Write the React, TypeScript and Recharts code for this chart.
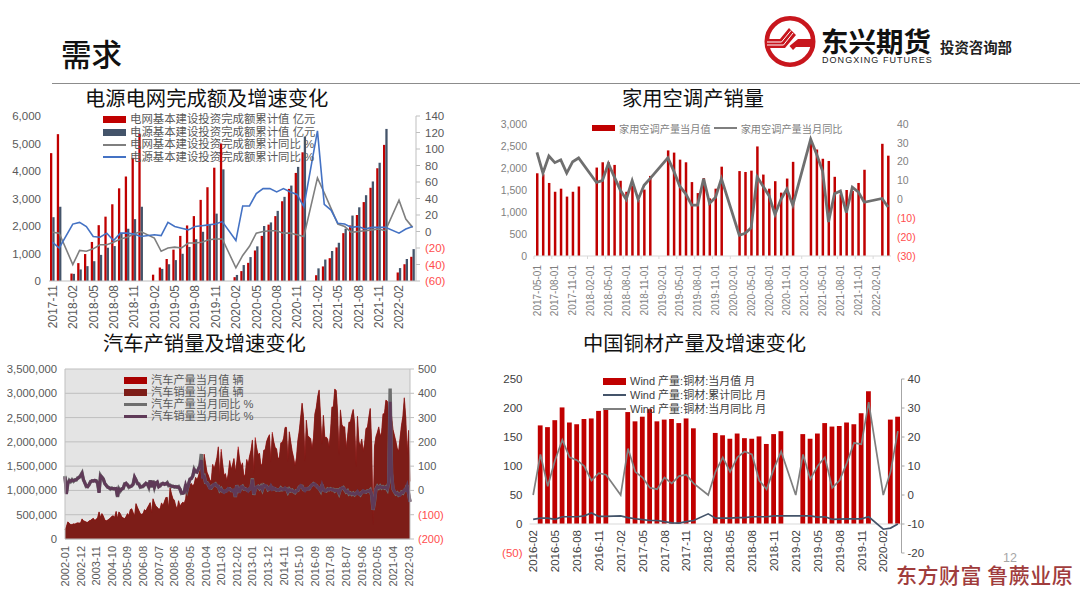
import React from "react";
import { ComposedChart, Bar, Line, Area, XAxis, YAxis, CartesianGrid, Legend, ReferenceLine } from "recharts";

const CN = '"Liberation Sans", Arial, "Noto Sans CJK SC", sans-serif';
const _ = null;

function monthList(y0: number, m0: number, count: number, suffix = "") {
  const out: string[] = [];
  for (let i = 0; i < count; i++) {
    const t = y0 * 12 + (m0 - 1) + i;
    out.push(`${Math.floor(t / 12)}-${String((t % 12) + 1).padStart(2, "0")}${suffix}`);
  }
  return out;
}

/* ---- Panel 1 ---- */
const gridCats = monthList(2017, 11, 54);
const gridValue = [4650,5340,_,270,650,980,1420,2030,2340,2790,3370,3800,4480,5360,_,230,490,800,1140,1640,2020,2360,2950,3410,4120,5000,_,140,360,660,1110,1640,2050,2360,2900,3350,3930,4680,_,210,530,830,1220,1740,2020,2400,2870,3390,4100,4950,_,310,610,880];
const powerValue = [2320,2700,_,260,420,540,720,950,1210,1270,1720,1900,2250,2700,_,_,440,610,760,990,1240,1520,1790,2050,2450,4060,_,220,580,870,1260,2000,2130,2550,3060,3470,4150,5250,_,460,780,1090,1390,1900,2380,2680,3120,3620,4300,5530,_,470,800,1160];
const gridYoy = [-1,-2,_,-40,-23,-24,-21,-16,-16,-13,-9,-7,-3,0,_,-8,-24,-20,-19,-20,-14,-14,-13,-10,-9,-9,_,-44,-29,-18,-2,0,1,1,-2,-2,-4,-6,_,65,47,28,9,6,-1,0,1,2,3,1,_,38,15,5];
const powerYoy = [-13,-20,_,9,11,6,-6,-7,-2,-11,-2,-2,-3,-6,_,-4,-5,11,6,4,2,6,7,8,9,12,_,-11,31,31,46,52,52,48,52,48,45,30,_,122,33,26,10,9,5,6,3,5,5,5,_,-2,3,6];
const p1Rows = gridCats.map((c, i) => ({ c, a: gridValue[i], b: powerValue[i], g: gridYoy[i], p: powerYoy[i] }));

/* ---- Panel 2 ---- */
const acCats = monthList(2017, 5, 60, "-01");
const acValue = [1880,1860,1660,1460,1530,1350,1460,1580,_,_,2010,2130,2130,2070,1710,1460,1600,1280,1510,1820,_,_,2400,2350,2190,2130,1680,1430,1770,1310,1530,2030,_,_,1930,1910,1940,2490,1850,1530,1700,1440,1760,2140,_,_,2580,2420,2210,2160,1800,1400,1500,1480,1660,1960,_,_,2550,2280];
const acYoy = [25,14,23,19.5,21,14,20,22,_,_,9,10,19,12,5,0,10,0,7.5,11,_,_,22,15,7,3,-3,-3,11,-2,1,11,_,_,-19,-18,-15,12,7,2,-8,0,5.5,-3,_,_,32,24,15,-12,3,4.5,-7,6.5,4,-1.5,_,_,0.5,-4];
const p2Rows = acCats.map((c, i) => ({ c, a: acValue[i], g: acYoy[i] }));

/* ---- Panel 3 ---- */
const carCats = monthList(2002, 1, 244);
const carSales = [
  190,250,350,320,300,300,310,310,320,330,330,330,
  410,370,360,350,340,370,380,410,420,380,400,440,
  560,450,520,470,390,370,390,410,430,470,480,450,
  570,420,560,520,450,430,420,460,520,480,600,620,
  540,470,730,650,590,520,510,520,600,580,640,690,
  750,540,830,740,680,650,620,620,740,680,770,850,
  860,640,1060,930,830,800,680,620,790,670,720,760,
  730,830,1110,1150,1120,1140,1090,1130,1270,1220,1290,1410,
  1660,1250,1740,1550,1370,1300,1210,1180,1530,1440,1540,1670,
  1890,1270,1790,1550,1300,1340,1190,1340,1600,1420,1520,1650,
  1380,1570,1840,1630,1480,1560,1270,1330,1630,1530,1700,1820,
  2030,1350,2030,1870,1730,1760,1500,1550,1820,1830,2000,2080,
  2140,1580,2160,2000,1880,1850,1650,1670,1970,1980,2070,2290,
  2290,1590,2200,1990,1800,1670,1500,1660,2020,2220,2500,2790,
  2510,1590,2440,2120,2090,2060,1850,2070,2570,2700,2930,3060,
  2520,1940,2540,2080,2090,2050,1880,2190,2710,2710,3080,3050,
  2600,1720,2650,2350,2300,2300,1850,2100,2400,2400,2550,2660,
  2370,1480,2520,2000,1900,2050,1800,1950,2270,2290,2500,2680,
  1950,300,1900,2100,2190,2300,2110,2190,2570,2570,2850,2830,
  2500,1450,2530,2250,2130,2010,1860,1800,2070,2330,2520,2900,
  2500,1740,2230,1180,
].map((v) => v * 1000);
const carProd = [
  190,260,355,325,295,295,315,305,325,335,325,335,
  415,375,365,345,345,375,385,405,425,385,405,445,
  555,445,525,475,395,375,385,405,435,465,475,445,
  565,425,555,515,455,435,415,465,525,485,605,625,
  545,475,725,655,585,525,505,525,605,575,645,695,
  745,545,825,745,675,655,615,625,745,685,765,855,
  855,645,1055,925,835,795,685,615,785,675,725,755,
  735,825,1105,1150,1115,1145,1085,1135,1265,1215,1295,1415,
  1670,1260,1750,1560,1380,1310,1220,1190,1540,1450,1550,1680,
  1900,1290,1850,1570,1310,1350,1200,1350,1620,1430,1530,1660,
  1390,1590,1900,1640,1490,1570,1280,1340,1640,1540,1710,1830,
  2040,1360,2090,1880,1740,1770,1510,1560,1830,1840,2010,2090,
  2150,1590,2200,2010,1890,1860,1660,1680,1980,1990,2080,2300,
  2300,1600,2210,2000,1810,1680,1510,1670,2030,2230,2510,2800,
  2520,1600,2450,2130,2100,2070,1860,2080,2580,2710,2940,3070,
  2530,1950,2550,2090,2100,2060,1890,2200,2720,2720,3090,3060,
  2610,1730,2660,2360,2310,2310,1860,2110,2410,2410,2560,2670,
  2380,1490,2530,2010,1910,2060,1810,1960,2280,2300,2510,2690,
  1960,310,1910,2110,2200,2310,2120,2200,2580,2580,2860,2840,
  2510,1460,2540,2260,2140,2020,1870,1810,2080,2340,2530,2910,
  2510,1750,2240,1190,
].map((v) => v * 1000);
const carSalesYoy = [
  55,-15,30,40,38,42,40,42,45,50,55,60,
  70,45,30,18,15,25,35,40,38,42,38,30,
  -10,60,55,45,30,20,15,10,8,8,8,6,
  8,-25,5,0,5,10,25,30,22,15,15,20,
  25,55,42,30,25,15,14,18,22,30,25,15,
  40,15,38,15,30,35,15,20,25,30,25,28,
  30,22,20,18,16,16,14,15,14,6,-10,-12,
  -8,22,5,25,47,48,60,85,78,75,90,100,
  125,55,58,35,30,25,10,12,18,25,25,20,
  15,2,5,-2,-8,-1,-2,8,5,2,-2,2,
  -25,20,-3,-5,15,15,8,5,5,-2,8,7,
  45,-15,5,15,15,10,15,5,20,20,15,5,
  5,18,5,10,5,3,0,3,8,5,3,10,
  5,-5,3,0,-1,-3,-7,-3,2,12,20,15,
  5,-1,8,6,9,15,24,26,26,18,15,6,
  0,22,4,-2,0,4,5,5,5,2,-1,0,
  0,-10,5,11,10,5,-4,-3,-12,-12,-14,-13,
  -16,-14,-5,-15,-16,-10,-2,-7,-5,-4,-2,0,
  -18,-79,-43,4,15,12,16,12,13,12,12,6,
  30,365,75,9,-3,-12,-12,-18,-19,-9,-9,2,
  1,19,-11,-48,
];
const carProdYoy = [
  60,-12,28,42,36,44,38,44,43,52,53,62,
  72,43,32,16,17,23,37,38,40,40,40,28,
  -8,62,53,47,28,22,13,12,6,10,6,8,
  6,-27,7,-2,7,8,27,28,24,13,17,18,
  27,53,44,28,27,13,16,16,24,28,27,13,
  42,13,40,13,32,33,17,18,27,28,27,26,
  32,20,22,16,18,14,16,13,16,4,-12,-10,
  -10,24,3,27,45,50,58,87,76,77,88,102,
  150,60,62,33,32,23,12,10,20,23,27,18,
  17,0,7,-4,-6,-3,0,6,7,0,0,0,
  -27,22,-5,-3,13,17,6,7,3,0,6,9,
  50,-18,7,13,17,8,17,3,22,18,17,3,
  7,16,7,8,7,1,2,1,10,3,5,8,
  7,-7,5,-2,1,-5,-9,-1,0,14,18,17,
  3,1,6,8,7,17,22,28,24,20,13,8,
  -2,24,2,0,-2,6,3,7,3,4,-3,2,
  2,-12,7,9,12,3,-6,-1,-14,-10,-16,-11,
  -18,-12,-7,-13,-18,-8,-4,-5,-7,-2,-4,2,
  -20,-80,-45,6,17,10,18,10,15,10,14,4,
  32,420,70,7,-5,-14,-10,-20,-17,-7,-11,0,
  3,21,-13,-46,
];
const p3Rows = carCats.map((c, i) => ({ c, a: carProd[i], b: carSales[i], g: carProdYoy[i], p: carSalesYoy[i] }));

/* ---- Panel 4 ---- */
const cuCats = monthList(2016, 2, 51);
const cuValue = [_,170,167,179,201,175,172,181,182,195,199,_,_,193,177,185,198,177,180,181,174,182,165,_,_,157,153,147,156,148,147,151,138,155,160,_,_,155,147,156,174,168,169,175,172,191,229,_,_,180,185];
const cuCumYoy = [-8.4,-8,-8,-8.4,-7.5,-7.5,-7.5,-7.2,-6.2,-7.4,-7.4,_,-7.2,-7.8,-8.2,-8.5,-8.8,-8.8,-9.2,-9.6,-9.7,-9.2,-8.8,_,-6.5,-8,-8,-8,-7.8,-7.8,-7.5,-7.5,-7.5,-7.2,-7.2,_,-7.2,-7.2,-7.2,-7.6,-7.5,-8.4,-8.3,-8.2,-8.2,-8.2,-7.5,_,-11.8,-11.4,-10];
const cuMonYoy = [0,14,3,12,19,13,12,10,5,7.5,7,_,0,16,8,6,2.5,2,6,4,6.5,7,4,_,0,8,13,8,13,15,14,5,2,9,15,_,0,14,5.5,10,13,2.5,5,11,18,17.5,32,_,0,8,22];
const p4Rows = cuCats.map((c, i) => ({ c, a: cuValue[i], g: cuMonYoy[i], p: cuCumYoy[i] }));

/* ---- Legends ---- */
const p1Legend = ["电网基本建设投资完成额累计值 亿元", "电源基本建设投资完成额累计值 亿元", "电网基本建设投资完成额累计同比 %", "电源基本建设投资完成额累计同比 %"];
const p2Legend = ["家用空调产量当月值", "家用空调产量当月同比"];
const p3Legend = ["汽车产量当月值 辆", "汽车销量当月值 辆", "汽车产量当月同比 %", "汽车销量当月同比 %"];
const p4Legend = ["Wind 产量:铜材:当月值 月", "Wind 产量:铜材:累计同比 月", "Wind 产量:铜材:当月同比 月"];

type Item = { text: string; color: string; kind: "box" | "line"; lw?: number };

function VLegend({ items, step, size, color, sw = 23 }: { items: Item[]; step: number; size: number; color: string; sw?: number }) {
  return (
    <div style={{ fontFamily: CN, fontSize: size, color, lineHeight: `${step}px`, whiteSpace: "nowrap" }}>
      {items.map((it) => (
        <div key={it.text} style={{ display: "flex", alignItems: "center", height: step }}>
          <span style={{ display: "inline-block", width: sw, height: it.kind === "box" ? 7 : it.lw ?? 2, background: it.color, marginRight: 4 }} />
          <span>{it.text}</span>
        </div>
      ))}
    </div>
  );
}

function HLegend({ items, size, color }: { items: Item[]; size: number; color: string }) {
  return (
    <div style={{ fontFamily: CN, fontSize: size, color, whiteSpace: "nowrap", display: "flex", alignItems: "center", height: 14 }}>
      {items.map((it) => (
        <React.Fragment key={it.text}>
          <span style={{ display: "inline-block", width: 23, height: it.kind === "box" ? 6 : it.lw ?? 2, background: it.color, marginRight: 4 }} />
          <span style={{ marginRight: 3 }}>{it.text}</span>
        </React.Fragment>
      ))}
    </div>
  );
}

/* ---- Ticks ---- */
const RED = "#ff4d4d";
function numTick(size: number, color: string, anchor: "start" | "end", fmt = true) {
  return (p: any) => {
    const v = p.payload.value as number;
    const neg = v < 0;
    const s = neg && fmt ? `(${Math.abs(v).toLocaleString("en-US")})` : v.toLocaleString("en-US");
    return (
      <text x={p.x} y={p.y} dy="0.36em" textAnchor={anchor} fontFamily={CN} fontSize={size} fill={neg && fmt ? RED : color}>
        {s}
      </text>
    );
  };
}
function rotTick(size: number, color: string, off: number, mark?: number, markColor?: string) {
  return (p: any) => (
    <g>
      {mark ? <line x1={p.x - mark} x2={p.x - mark} y1={p.y} y2={p.y + 3} stroke={markColor} /> : null}
      <text transform={`translate(${p.x},${p.y + off}) rotate(-90)`} textAnchor="end" dy="0.36em" fontFamily={CN} fontSize={size} fill={color}>
        {p.payload.value}
      </text>
    </g>
  );
}

const box = (left: number, top: number): React.CSSProperties => ({ position: "absolute", left, top });
const titleStyle = (left: number, top: number, size = 20.3): React.CSSProperties => ({
  position: "absolute", left, top, fontFamily: '"Noto Sans CJK SC"', fontSize: size, lineHeight: "26px", color: "#111", whiteSpace: "nowrap",
});

const legendWrap = (left: number, top: number): React.CSSProperties => ({ left, top, width: "auto" });

function Panel1() {
  const items: Item[] = [
    { text: p1Legend[0], color: "#c00000", kind: "box" },
    { text: p1Legend[1], color: "#44546a", kind: "box" },
    { text: p1Legend[2], color: "#7f7f7f", kind: "line" },
    { text: p1Legend[3], color: "#4472c4", kind: "line" },
  ];
  return (
    <div style={box(0, 100)}>
      <ComposedChart width={460} height={240} data={p1Rows} margin={{ top: 16, right: 0, bottom: 0, left: 0 }} barGap={0} barSize={2.3}>
        <XAxis dataKey="c" interval={2} height={59} tickLine={false} tickSize={0} tickMargin={0} stroke="#bfbfbf" tick={rotTick(12, "#595959", 4)} />
        <YAxis yAxisId="l" interval={0} domain={[0, 6000]} ticks={[0, 1000, 2000, 3000, 4000, 5000, 6000]} width={49} axisLine={false} tickLine={false} tickSize={0} tickMargin={8} tick={numTick(11.5, "#595959", "end")} />
        <YAxis yAxisId="r" interval={0} orientation="right" domain={[-60, 140]} ticks={[-60, -40, -20, 0, 20, 40, 60, 80, 100, 120, 140]} width={44} stroke="#bfbfbf" tickSize={4} tickMargin={5} tick={numTick(11.5, "#595959", "start")} />
        <Bar yAxisId="l" dataKey="a" name={p1Legend[0]} fill="#c00000" isAnimationActive={false} />
        <Bar yAxisId="l" dataKey="b" name={p1Legend[1]} fill="#44546a" isAnimationActive={false} />
        <Line yAxisId="r" dataKey="g" name={p1Legend[2]} stroke="#7f7f7f" strokeWidth={1.6} dot={false} connectNulls isAnimationActive={false} />
        <Line yAxisId="r" dataKey="p" name={p1Legend[3]} stroke="#4472c4" strokeWidth={1.6} dot={false} connectNulls isAnimationActive={false} />
        <Legend layout="vertical" align="center" verticalAlign="middle" wrapperStyle={legendWrap(103, 13)} content={() => <VLegend items={items} step={12.7} size={11.4} color="#595959" />} />
      </ComposedChart>
    </div>
  );
}

function Panel2() {
  const items: Item[] = [
    { text: p2Legend[0], color: "#c00000", kind: "box" },
    { text: p2Legend[1], color: "#7f7f7f", kind: "line", lw: 2.5 },
  ];
  return (
    <div style={box(480, 110)}>
      <ComposedChart width={460} height={210} data={p2Rows} margin={{ top: 14, right: 0, bottom: 0, left: 0 }} barSize={2.5}>
        <XAxis dataKey="c" interval={2} height={64} tickLine={false} tickSize={0} tickMargin={0} stroke="#d9d9d9" tick={rotTick(10, "#7f7f7f", 9, 3, "#d9d9d9")} />
        <YAxis yAxisId="l" interval={0} domain={[0, 3000]} ticks={[0, 500, 1000, 1500, 2000, 2500, 3000]} width={54} axisLine={false} tickLine={false} tickSize={0} tickMargin={7} tick={numTick(10.5, "#7f7f7f", "end")} />
        <YAxis yAxisId="r" interval={0} orientation="right" domain={[-30, 40]} ticks={[-30, -20, -10, 0, 10, 20, 30, 40]} width={49} axisLine={false} tickLine={false} tickSize={0} tickMargin={6} tick={numTick(10.5, "#7f7f7f", "start")} />
        <Bar yAxisId="l" dataKey="a" name={p2Legend[0]} fill="#c00000" isAnimationActive={false} />
        <Line yAxisId="r" dataKey="g" name={p2Legend[1]} stroke="#6f6f6f" strokeWidth={2.8} dot={false} connectNulls isAnimationActive={false} />
        <Legend layout="vertical" align="center" verticalAlign="middle" wrapperStyle={legendWrap(112, 11)} content={() => <HLegend items={items} size={10.2} color="#7f7f7f" />} />
      </ComposedChart>
    </div>
  );
}

function Panel3() {
  const items: Item[] = [
    { text: p3Legend[0], color: "#a80000", kind: "box" },
    { text: p3Legend[1], color: "#7d1d18", kind: "box" },
    { text: p3Legend[2], color: "#6e6e6e", kind: "line", lw: 3 },
    { text: p3Legend[3], color: "#5f3a58", kind: "line", lw: 3 },
  ];
  return (
    <div style={box(0, 350)}>
      <ComposedChart width={460} height={248} data={p3Rows} margin={{ top: 19, right: 0, bottom: 0, left: 0 }}>
        <CartesianGrid yAxisId="l" vertical={false} stroke="#bfbfbf" fill="#e4e4e4" />
        <XAxis dataKey="c" scale="point" interval={10} height={59} tickLine={false} tickSize={0} tickMargin={0} stroke="#bfbfbf" tick={rotTick(11, "#595959", 7)} />
        <YAxis yAxisId="l" interval={0} domain={[0, 3500000]} ticks={[0, 500000, 1000000, 1500000, 2000000, 2500000, 3000000, 3500000]} width={65} stroke="#bfbfbf" tickLine={false} tickSize={0} tickMargin={8} tick={numTick(11.3, "#595959", "end")} />
        <YAxis yAxisId="r" interval={0} orientation="right" domain={[-200, 500]} ticks={[-200, -100, 0, 100, 200, 300, 400, 500]} width={50} stroke="#bfbfbf" tickSize={4} tickMargin={4} tick={numTick(11, "#595959", "start")} />
        <Area yAxisId="l" type="linear" dataKey="a" name={p3Legend[0]} fill="#a80000" fillOpacity={1} stroke="#a80000" strokeWidth={0.5} dot={false} isAnimationActive={false} />
        <Area yAxisId="l" type="linear" dataKey="b" name={p3Legend[1]} fill="#7d1d18" fillOpacity={1} stroke="#7d1d18" strokeWidth={0.5} dot={false} isAnimationActive={false} />
        <Line yAxisId="r" dataKey="g" name={p3Legend[2]} stroke="#6e6e6e" strokeWidth={3.4} dot={false} isAnimationActive={false} />
        <Line yAxisId="r" dataKey="p" name={p3Legend[3]} stroke="#5f3a58" strokeWidth={3} dot={false} isAnimationActive={false} />
        <Legend layout="vertical" align="center" verticalAlign="middle" wrapperStyle={legendWrap(124, 24)} content={() => <VLegend items={items} step={12} size={11.2} color="#595959" />} />
      </ComposedChart>
    </div>
  );
}

function Panel4() {
  const items: Item[] = [
    { text: p4Legend[0], color: "#c00000", kind: "box" },
    { text: p4Legend[1], color: "#44546a", kind: "line" },
    { text: p4Legend[2], color: "#7f7f7f", kind: "line" },
  ];
  return (
    <div style={box(480, 360)}>
      <ComposedChart width={480} height={238} data={p4Rows} margin={{ top: 19, right: 0, bottom: 0, left: 0 }} barSize={4.8}>
        <XAxis dataKey="c" interval={2} height={45} axisLine={false} tickLine={false} tickSize={0} tickMargin={0} tick={rotTick(11.5, "#404040", -23)} />
        <YAxis yAxisId="l" interval={0} domain={[-50, 250]} ticks={[-50, 0, 50, 100, 150, 200, 250]} width={49.5} axisLine={false} tickLine={false} tickSize={0} tickMargin={7} tick={numTick(11.5, "#404040", "end")} />
        <YAxis yAxisId="r" interval={0} orientation="right" domain={[-20, 40]} ticks={[-20, -10, 0, 10, 20, 30, 40]} width={58.5} stroke="#a6a6a6" tickSize={3} tickMargin={3} tick={numTick(11.5, "#404040", "start", false)} />
        <ReferenceLine yAxisId="l" y={0} stroke="#d9d9d9" />
        <Bar yAxisId="l" dataKey="a" name={p4Legend[0]} fill="#c00000" isAnimationActive={false} />
        <Line yAxisId="r" dataKey="p" name={p4Legend[1]} stroke="#44546a" strokeWidth={1.7} dot={false} connectNulls isAnimationActive={false} />
        <Line yAxisId="r" dataKey="g" name={p4Legend[2]} stroke="#7f7f7f" strokeWidth={1.7} dot={false} connectNulls isAnimationActive={false} />
        <Legend layout="vertical" align="center" verticalAlign="middle" wrapperStyle={legendWrap(123, 14)} content={() => <VLegend items={items} step={14} size={11} color="#404040" />} />
      </ComposedChart>
    </div>
  );
}

function Logo() {
  return (
    <svg width={60} height={60} style={box(760, 12)} viewBox="0 0 60 60">
      <circle cx={30} cy={29.5} r={23.2} fill="#fff" stroke="#c8161d" strokeWidth={4.6} />
      <path d="M7 27 L20 27 L29 16 L36 23 L25 36 L7 36 Z" fill="#c8161d" />
      <path d="M38 27 L55 27 L55 35 L36 35 L33 38 L29.5 34 Z" fill="#c8161d" />
      <path d="M7 30 L21.5 30 L31 18.5 M7 33 L23.5 33 L33 21" fill="none" stroke="#fff" strokeWidth={1} />
    </svg>
  );
}

export default function App() {
  return (
    <div style={{ position: "absolute", left: 0, top: 0, width: 1080, height: 598, background: "#fff", overflow: "hidden" }}>
      <div style={{ position: "absolute", left: 61, top: 31, fontFamily: '"Noto Sans CJK SC"', fontSize: 30.5, fontWeight: 500, lineHeight: "44px", color: "#111" }}>需求</div>
      <Logo />
      <div style={{ position: "absolute", left: 821, top: 26, fontFamily: '"Noto Sans CJK SC"', fontSize: 27.5, fontWeight: 700, lineHeight: "28px", color: "#111", whiteSpace: "nowrap" }}>东兴期货</div>
      <div style={{ position: "absolute", left: 822, top: 55, fontFamily: CN, fontSize: 9, letterSpacing: 1.05, lineHeight: "11px", color: "#222", whiteSpace: "nowrap" }}>DONGXING FUTURES</div>
      <div style={{ position: "absolute", left: 940, top: 37, fontFamily: '"Noto Sans CJK SC"', fontSize: 14.4, fontWeight: 700, lineHeight: "20px", color: "#222", whiteSpace: "nowrap" }}>投资咨询部</div>
      <div style={{ position: "absolute", left: 52, top: 83, width: 1028, height: 1, background: "#8c8c8c" }} />

      <div style={titleStyle(85, 84)}>电源电网完成额及增速变化</div>
      <div style={titleStyle(622, 84)}>家用空调产销量</div>
      <div style={titleStyle(103, 329)}>汽车产销量及增速变化</div>
      <div style={titleStyle(583, 329)}>中国铜材产量及增速变化</div>

      <Panel1 />
      <Panel2 />
      <Panel3 />
      <Panel4 />

      <div style={{ position: "absolute", left: 896, top: 564, fontFamily: '"Noto Sans CJK SC"', fontSize: 21, fontWeight: 500, lineHeight: "20px", letterSpacing: 0.5, color: "#a03c3c", whiteSpace: "nowrap" }}>东方财富 鲁蕨业原</div>
      <div style={{ position: "absolute", left: 1003, top: 552, fontFamily: CN, fontSize: 12.5, lineHeight: "12px", color: "#a6a6a6" }}>12</div>
    </div>
  );
}
